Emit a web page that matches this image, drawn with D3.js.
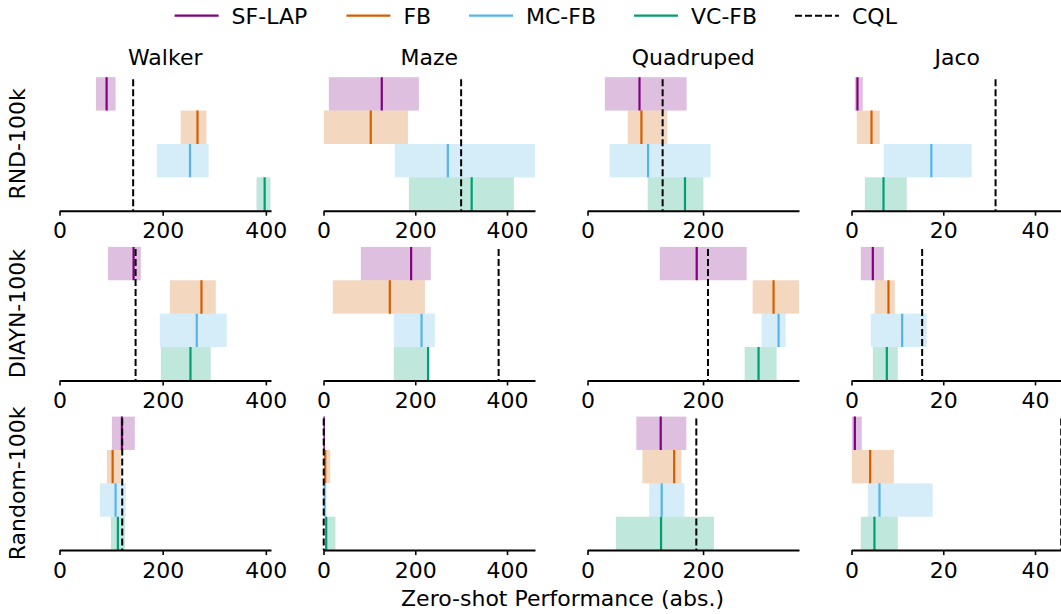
<!DOCTYPE html>
<html>
<head>
<meta charset="utf-8">
<script src="https://cdn.jsdelivr.net/npm/d3@7"></script>
<style>
  body { margin: 0; background: #fff; }
  text { font-family: "DejaVu Sans", sans-serif; fill: #000; }
</style>
</head>
<body>
<svg id="chart" width="1061" height="614"></svg>
<script>
// Methods and panels
const methods = ["SF-LAP", "FB", "MC-FB", "VC-FB"];
const methodColors = ["#800080", "#D55E00", "#56B4E9", "#009E73"];
const domains = ["Walker", "Maze", "Quadruped", "Jaco"];
const datasets = ["RND-100k", "DIAYN-100k", "Random-100k"];
const xMax = [410, 461, 366, 46.1];
const xTicks = [[0, 200, 400], [0, 200, 400], [0, 200], [0, 20, 40]];

// [low, median, high] for SF-LAP, FB, MC-FB, VC-FB
const rndWalker    = [[70.6, 91.3, 108.7], [235, 267.5, 285], [188.7, 253, 289], [382, 397.7, 409]];
const rndMaze      = [[11.6, 127, 208], [0.7, 103, 184], [155.5, 271, 461], [186, 323, 415]];
const rndQuadruped = [[30, 90, 171.6], [69.7, 93.3, 138], [38.5, 104.8, 213], [104.2, 168.7, 200.5]];
const rndJaco      = [[0.72, 1.3, 2.46], [1.16, 4.36, 6.17], [7.04, 17.4, 26.2], [2.9, 6.98, 12.06]];

const diaynWalker    = [[93.9, 143.6, 157.7], [213.9, 275.2, 302.9], [194.5, 266.1, 324.2], [196.4, 253.9, 293.2]];
const diaynMaze      = [[81.4, 191, 234], [20.3, 144.6, 221], [153.3, 213.7, 242.7], [153.3, 228, 229]];
const diaynQuadruped = [[125, 189, 275.4], [285.8, 322, 366], [301.3, 330.7, 342.8], [272, 296, 327.2]];
const diaynJaco      = [[2.03, 4.65, 7.04], [5.08, 8.06, 9.44], [4.2, 11.04, 16.4], [4.65, 7.7, 10.1]];

const randomWalker    = [[101.6, 121, 146.1], [91.9, 103, 119], [78.4, 108.7, 128.7], [99.7, 113.2, 126.8]];
const randomMaze      = [[0, 0.5, 2.2], [0, 3.7, 14.8], [0, 2.2, 6.7], [3.7, 5.9, 26]];
const randomQuadruped = [[84.5, 126.7, 171], [95, 150, 162.5], [106.7, 128.4, 167.7], [49.3, 127.3, 218.8]];
const randomJaco      = [[0.07, 0.73, 2.25], [0.07, 4.07, 9.24], [3.56, 6.1, 17.7], [2.04, 5.0, 10.1]];

// CQL reference per domain
const cqlRnd    = [142.8, 300, 130, 31.4];
const cqlDiayn  = [147.5, 381.7, 208.5, 15.4];
const cqlRandom = [121.6, 0.5, 188.3, 45.7];

const results = [
  [rndWalker, rndMaze, rndQuadruped, rndJaco],
  [diaynWalker, diaynMaze, diaynQuadruped, diaynJaco],
  [randomWalker, randomMaze, randomQuadruped, randomJaco]
];
const cqlValues = [cqlRnd, cqlDiayn, cqlRandom];

// Layout
const colX0 = 59.5, colStep = 264, colW = 211.5;
const axisY0 = 210.7, rowStep = 169.7, panelH = 133.5;
const fontSize = 22;

const svg = d3.select("#chart");

datasets.forEach((ds, r) => {
  const axisY = axisY0 + r * rowStep;
  const top = axisY - panelH;

  const y = d3.scaleBand()
      .domain(methods)
      .range([top, axisY]);

  domains.forEach((dom, c) => {
    const x0 = colX0 + c * colStep;
    const x = d3.scaleLinear()
        .domain([0, xMax[c]])
        .range([x0, x0 + colW]);

    const clipId = `clip-${r}-${c}`;
    svg.append("clipPath").attr("id", clipId)
      .append("rect")
        .attr("x", x0).attr("y", top - 2)
        .attr("width", colW).attr("height", panelH + 4);

    const g = svg.append("g").attr("clip-path", `url(#${clipId})`);

    results[r][c].forEach((d, m) => {
      g.append("rect")
          .attr("x", x(d[0]))
          .attr("y", y(methods[m]))
          .attr("width", Math.max(0, x(d[2]) - x(d[0])))
          .attr("height", y.bandwidth())
          .attr("fill", methodColors[m])
          .attr("fill-opacity", 0.25);
    });

    results[r][c].forEach((d, m) => {
      g.append("line")
          .attr("x1", x(d[1])).attr("x2", x(d[1]))
          .attr("y1", y(methods[m]))
          .attr("y2", y(methods[m]) + y.bandwidth())
          .attr("stroke", methodColors[m])
          .attr("stroke-width", 2.2);
    });

    // CQL line
    svg.append("line")
        .attr("x1", x(cqlValues[r][c])).attr("x2", x(cqlValues[r][c]))
        .attr("y1", top + 2).attr("y2", axisY)
        .attr("stroke", "#000")
        .attr("stroke-width", 2)
        .attr("stroke-dasharray", "7,3");

    // x axis
    const ax = svg.append("g")
        .attr("transform", `translate(0,${axisY})`)
        .call(d3.axisBottom(x).tickValues(xTicks[c]).tickSize(5).tickSizeOuter(0).tickPadding(7));
    ax.select(".domain").attr("stroke", "#000").attr("stroke-width", 2);
    ax.selectAll(".tick line").attr("stroke", "#000").attr("stroke-width", 1.6);
    ax.selectAll(".tick text")
        .attr("font-family", "DejaVu Sans")
        .attr("font-size", fontSize)
        .attr("fill", "#000");

    if (r === 0) {
      svg.append("text")
          .attr("x", x0 + colW / 2)
          .attr("y", 65)
          .attr("text-anchor", "middle")
          .attr("font-size", fontSize)
          .text(dom);
    }
  });

  // row label
  svg.append("text")
      .attr("transform", `translate(24.5,${top + panelH / 2}) rotate(-90)`)
      .attr("text-anchor", "middle")
      .attr("font-size", fontSize)
      .text(ds);
});

// x label
svg.append("text")
    .attr("x", 562.5)
    .attr("y", 606)
    .attr("text-anchor", "middle")
    .attr("font-size", fontSize)
    .text("Zero-shot Performance (abs.)");

// Legend
const legendNames = methods.concat(["CQL"]);
const legendLineX = [174.6, 346.4, 469, 634, 795];
const legendY = 15.7;
legendNames.forEach((name, i) => {
  const lx = legendLineX[i];
  svg.append("line")
      .attr("x1", lx).attr("x2", lx + 44)
      .attr("y1", legendY).attr("y2", legendY)
      .attr("stroke", i < 4 ? methodColors[i] : "#000")
      .attr("stroke-width", i < 4 ? 2.2 : 2)
      .attr("stroke-dasharray", i < 4 ? null : "7,3");
  svg.append("text")
      .attr("x", lx + 57)
      .attr("y", legendY + 8)
      .attr("font-size", fontSize)
      .text(name);
});
</script>
</body>
</html>
